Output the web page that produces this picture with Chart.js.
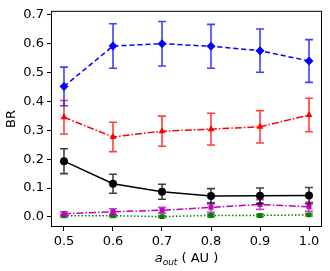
<!DOCTYPE html>
<html>
<head>
<meta charset="utf-8">
<script src="https://cdn.jsdelivr.net/npm/chart.js@4.4.0/dist/chart.umd.min.js"></script>
<style>
  html, body { margin: 0; padding: 0; background: #fff; }
  #wrap { width: 330px; height: 271px; }
</style>
</head>
<body>
<div id="wrap"><canvas id="chart" width="330" height="271"></canvas></div>
<script>
// values
const aOut = [0.5, 0.6, 0.7, 0.8, 0.9, 1.0];
const xTicks = [0.5, 0.6, 0.7, 0.8, 0.9, 1.0];
const yTicks = [0.0, 0.1, 0.2, 0.3, 0.4, 0.5, 0.6, 0.7];

const brBlue = [0.452, 0.592, 0.600, 0.591, 0.576, 0.540];
const errBlue = [0.067, 0.077, 0.077, 0.076, 0.075, 0.074];
const brRed = [0.345, 0.277, 0.297, 0.304, 0.312, 0.353];
const errRed = [0.058, 0.051, 0.052, 0.055, 0.056, 0.058];
const brBlack = [0.193, 0.115, 0.087, 0.072, 0.073, 0.074];
const errBlack = [0.043, 0.033, 0.026, 0.026, 0.027, 0.028];
const brMagenta = [0.011, 0.018, 0.023, 0.033, 0.043, 0.035];
const errMagenta = [0.007, 0.010, 0.010, 0.017, 0.017, 0.016];
const brGreen = [0.004, 0.004, 0.001, 0.005, 0.005, 0.007];
const errGreen = [0.004, 0.004, 0.003, 0.004, 0.004, 0.004];

const FONT = "'DejaVu Sans', sans-serif";
const pts = (ys) => ys.map((y, i) => ({ x: aOut[i], y }));

function series(data, err, color, errColor, shape, dash, radius) {
    return {
        data: pts(data), err, errColor,
        borderColor: color, backgroundColor: color,
        borderWidth: 1.5, borderDash: dash,
        pointStyle: shape, pointRadius: radius, pointBorderWidth: 0,
        pointBackgroundColor: color, tension: 0, fill: false
    };
}

// error bars, drawn under each dataset's own line
const errorBars = {
    id: 'errorBars',
    beforeDatasetDraw(chart, args) {
        const ds = chart.data.datasets[args.index];
        if (!ds.err) return;
        const x = chart.scales.x, y = chart.scales.y, ctx = chart.ctx;
        ctx.save();
        ctx.strokeStyle = ds.errColor;
        ctx.lineWidth = 1.6;
        ds.data.forEach((p, i) => {
            const px = x.getPixelForValue(p.x);
            const top = y.getPixelForValue(p.y + ds.err[i]);
            const bot = y.getPixelForValue(p.y - ds.err[i]);
            ctx.beginPath();
            ctx.moveTo(px, top); ctx.lineTo(px, bot);
            ctx.moveTo(px - 4, top); ctx.lineTo(px + 4, top);
            ctx.moveTo(px - 4, bot); ctx.lineTo(px + 4, bot);
            ctx.stroke();
        });
        ctx.restore();
    }
};

// axes frame + x label with subscript
const frame = {
    id: 'frame',
    afterDraw(chart) {
        const a = chart.chartArea, ctx = chart.ctx;
        ctx.save();
        ctx.strokeStyle = '#000';
        ctx.lineWidth = 1;
        ctx.strokeRect(a.left + 0.5, a.top + 0.5, a.right - a.left - 1, a.bottom - a.top - 1);

        const cx = (a.left + a.right) / 2, base = 262;
        ctx.fillStyle = '#000';
        ctx.textBaseline = 'alphabetic';
        const f1 = 'italic 13px ' + FONT, f2 = 'italic 9px ' + FONT, f3 = '13px ' + FONT;
        ctx.font = f1; const w1 = ctx.measureText('a').width;
        ctx.font = f2; const w2 = ctx.measureText('out').width;
        ctx.font = f3; const w3 = ctx.measureText(' ( AU )').width;
        let sx = cx - (w1 + w2 + w3) / 2;
        ctx.font = f1; ctx.fillText('a', sx, base); sx += w1;
        ctx.font = f2; ctx.fillText('out', sx, base + 3); sx += w2;
        ctx.font = f3; ctx.fillText(' ( AU )', sx, base);
        ctx.restore();
    }
};

new Chart(document.getElementById('chart'), {
    type: 'line',
    data: {
        datasets: [
            series(brBlue, errBlue, '#0000ff', 'rgba(0,0,255,0.75)', 'rectRot', [5, 3], 4.5),
            series(brRed, errRed, '#ff0000', 'rgba(255,0,0,0.75)', 'triangle', [7, 2, 1.5, 2], 4),
            series(brBlack, errBlack, '#000000', 'rgba(0,0,0,0.75)', 'circle', [], 4),
            series(brMagenta, errMagenta, '#bf00bf', 'rgba(191,0,191,0.75)', 'rect', [7, 2, 1.5, 2], 3.5),
            series(brGreen, errGreen, '#008000', 'rgba(0,128,0,0.75)', 'rect', [1.5, 2], 3.5)
        ]
    },
    options: {
        responsive: false,
        animation: false,
        layout: { padding: { top: 9, right: 8, left: 0, bottom: 0 } },
        plugins: { legend: { display: false }, tooltip: { enabled: false } },
        scales: {
            x: {
                type: 'linear', min: 0.4735, max: 1.0265,
                afterBuildTicks: s => { s.ticks = xTicks.map(v => ({ value: v })); },
                afterFit: s => { s.height = 44; },
                grid: { drawOnChartArea: false, drawTicks: true, tickLength: 4, color: '#000' },
                border: { display: false },
                ticks: { color: '#000', font: { family: FONT, size: 13 }, padding: 3,
                         maxRotation: 0, callback: v => v.toFixed(1) }
            },
            y: {
                min: -0.035, max: 0.714,
                afterBuildTicks: s => { s.ticks = yTicks.map(v => ({ value: v })); },
                afterFit: s => { s.width = 51; },
                grid: { drawOnChartArea: false, drawTicks: true, tickLength: 4, color: '#000' },
                border: { display: false },
                title: { display: true, text: 'BR', color: '#000', font: { family: FONT, size: 13 }, padding: { top: 4, bottom: 2 } },
                ticks: { color: '#000', font: { family: FONT, size: 13 }, padding: 3,
                         callback: v => v.toFixed(1) }
            }
        }
    },
    plugins: [errorBars, frame]
});
</script>
</body>
</html>
